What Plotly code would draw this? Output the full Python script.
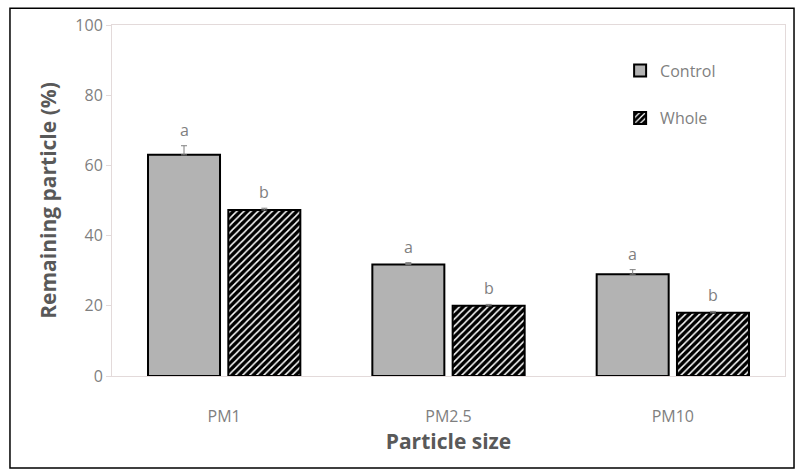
import plotly.graph_objects as go

categories = ["PM1", "PM2.5", "PM10"]
control = [63.0, 31.8, 29.0]
control_err = [2.6, 0.5, 1.3]
whole = [47.3, 20.0, 18.0]
whole_err = [0.5, 0.4, 0.4]
control_letters = ["a", "a", "a"]
whole_letters = ["b", "b", "b"]

xs = list(range(len(categories)))
off = 0.179
bw = 0.321

fig = go.Figure()
fig.add_trace(go.Bar(
    x=[i - off for i in xs], y=control, width=bw, name="Control",
    marker=dict(color="#b3b3b3", line=dict(color="black", width=2)),
    error_y=dict(type="data", array=control_err, arrayminus=[0] * len(control),
                 symmetric=False, color="#7f7f7f", thickness=1, width=3),
    legend="legend", showlegend=True,
))
fig.add_trace(go.Bar(
    x=[i + off for i in xs], y=whole, width=bw, name="Whole",
    marker=dict(color="black", line=dict(color="black", width=2),
                pattern=dict(shape="/", fgcolor="white", bgcolor="black", size=5, solidity=0.3, fillmode="replace")),
    error_y=dict(type="data", array=whole_err, arrayminus=[0] * len(whole),
                 symmetric=False, color="#7f7f7f", thickness=1, width=3),
    legend="legend2", showlegend=True,
))

for i in xs:
    fig.add_annotation(x=i - off, y=control[i] + control_err[i], text=control_letters[i],
                       showarrow=False, yanchor="bottom", yshift=3,
                       font=dict(size=16, color="#7f7f7f", family="Open Sans"))
    fig.add_annotation(x=i + off, y=whole[i] + whole_err[i], text=whole_letters[i],
                       showarrow=False, yanchor="bottom", yshift=3,
                       font=dict(size=16, color="#7f7f7f", family="Open Sans"))

fig.add_shape(type="rect", xref="paper", yref="paper",
              x0=-0.1516, x1=1.0134, y0=-0.262, y1=1.048,
              line=dict(color="black", width=1.5), layer="below")

fig.update_layout(
    width=804, height=476,
    margin=dict(l=112, r=19, t=25, b=100),
    paper_bgcolor="white", plot_bgcolor="white",
    font=dict(family="Open Sans", color="#7f7f7f"),
    barmode="overlay",
    showlegend=True,
    legend=dict(x=0.755, y=0.87, xanchor="left", yanchor="middle", itemwidth=30,
                font=dict(size=16, color="#7f7f7f"), bgcolor="rgba(0,0,0,0)"),
    legend2=dict(x=0.755, y=0.735, xanchor="left", yanchor="middle", itemwidth=30,
                 font=dict(size=16, color="#7f7f7f"), bgcolor="rgba(0,0,0,0)"),
    xaxis=dict(range=[-0.5, 2.5], tickvals=xs, ticktext=categories,
               showgrid=False, showline=True, linecolor="#e3dada", mirror=True,
               ticks="", ticklabelstandoff=26,
               tickfont=dict(size=16, color="#7f7f7f"),
               title=dict(text="<b>Particle size</b>", font=dict(size=21, color="#595959"), standoff=8),
               zeroline=False),
    yaxis=dict(range=[0, 100], dtick=20, showgrid=False, showline=True, linecolor="#e3dada",
               mirror=True, ticks="outside", ticklen=5, tickcolor="#e3dada",
               tickfont=dict(size=16, color="#7f7f7f"),
               title=dict(text="<b>Remaining particle (%)</b>", font=dict(size=21, color="#595959"), standoff=12),
               zeroline=False),
)

fig.write_html("out.html")
